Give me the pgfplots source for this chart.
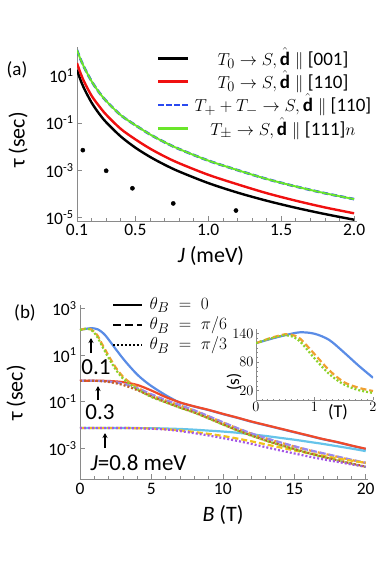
\documentclass[border=0pt]{standalone}
\usepackage{amsmath}
\usepackage{fontspec}
\setmainfont{Carlito}
\usepackage{pgfplots}
\pgfplotsset{compat=1.18}
\usetikzlibrary{arrows.meta}

\definecolor{axgray}{HTML}{8A8A8A}
\definecolor{ared}{HTML}{F01010}
\definecolor{ablue}{HTML}{2A4AF0}
\definecolor{agreen}{HTML}{6AE62A}
% panel (b): J = 0.1, 0.3, 0.8 for theta_B = 0, pi/6, pi/3
\definecolor{cA}{HTML}{5A8CE6}
\definecolor{cAd}{HTML}{F0A030}
\definecolor{cAt}{HTML}{8CD22A}
\definecolor{cB}{HTML}{F04A2A}
\definecolor{cBd}{HTML}{9A88EE}
\definecolor{cBt}{HTML}{C0602A}
\definecolor{cC}{HTML}{66C4EA}
\definecolor{cCd}{HTML}{F2C21A}
\definecolor{cCt}{HTML}{A458E6}

\pgfplotsset{
  myaxis/.style={
    scale only axis, axis lines=left,
    axis line style={axgray, line width=0.8pt, -},
    every tick/.style={axgray, line width=0.6pt},
    tick align=inside, major tick length=5pt, minor tick length=3pt,
    tick label style={font=\fontsize{17.5}{20}\selectfont},
  },
  lsol/.style={line width=2.2pt},
  ldsh/.style={line width=2.2pt, dash pattern=on 6pt off 3pt},
  ldot/.style={line width=2.2pt, dash pattern=on 2pt off 2pt},
}

\begin{document}
\begin{tikzpicture}
\path[use as bounding box] (0,0) rectangle (382pt,-565pt);

% ---------------- (a) ----------------
\begin{axis}[myaxis,
  at={(77pt,-221pt)}, anchor=south west, width=280pt, height=174.3pt,
  xmin=0.1, xmax=2.02, ymode=log, ymin=7.2e-6, ymax=166,
  xtick={0.1,0.5,1.0,1.5,2.0}, xticklabels={0.1,0.5,1.0,1.5,2.0},
  minor xtick={0.2,0.3,0.4,0.6,0.7,0.8,0.9,1.1,1.2,1.3,1.4,1.6,1.7,1.8,1.9},
  ytick={1e-5,1e-3,1e-1,1e1},
  yticklabels={10\textsuperscript{-5},10\textsuperscript{-3},10\textsuperscript{-1},10\textsuperscript{1}},
  yminorticks=false,
]
\addplot[black, line width=2.4pt, smooth] coordinates {
(0.1,17.38)(0.12,7.621)(0.15,2.748)(0.2,0.7244)(0.25,0.2541)(0.3,0.1069)(0.4,2.685e-2)
(0.5,9.06e-3)(0.6,3.70e-3)(0.7,1.726e-3)(0.8,8.87e-4)(1.0,2.884e-4)(1.2,1.143e-4)
(1.4,5.19e-5)(1.6,2.606e-5)(1.8,1.416e-5)(2.0,8.17e-6)};
\addplot[ared, line width=2.4pt, smooth] coordinates {
(0.1,33.88)(0.12,14.86)(0.15,5.358)(0.2,1.413)(0.25,0.5309)(0.3,0.2234)(0.4,5.61e-2)
(0.5,2.028e-2)(0.6,8.28e-3)(0.7,3.864e-3)(0.8,1.986e-3)(1.0,6.457e-4)(1.2,2.559e-4)
(1.4,1.084e-4)(1.6,5.20e-5)(1.8,2.698e-5)(2.0,1.521e-5)};
\addplot[ablue, line width=2.6pt, dash pattern=on 6pt off 3pt, smooth] coordinates {
(0.1,120.2)(0.12,56.49)(0.15,21.83)(0.2,5.754)(0.25,2.018)(0.3,0.8492)(0.4,0.2133)
(0.5,8.07e-2)(0.6,3.296e-2)(0.7,1.538e-2)(0.8,7.91e-3)(1.0,2.570e-3)(1.2,1.019e-3)
(1.4,4.315e-4)(1.6,2.070e-4)(1.8,1.074e-4)(2.0,6.05e-5)};
\addplot[agreen, line width=1.9pt, smooth] coordinates {
(0.1,120.2)(0.12,56.49)(0.15,21.83)(0.2,5.754)(0.25,2.018)(0.3,0.8492)(0.4,0.2133)
(0.5,8.07e-2)(0.6,3.296e-2)(0.7,1.538e-2)(0.8,7.91e-3)(1.0,2.570e-3)(1.2,1.019e-3)
(1.4,4.315e-4)(1.6,2.070e-4)(1.8,1.074e-4)(2.0,6.05e-5)};
\addplot[only marks, mark=*, mark size=2.1pt, black] coordinates {
(0.14,7.079e-3)(0.3,9.55e-4)(0.48,1.738e-4)(0.76,3.981e-5)(1.19,1.995e-5)};
\end{axis}

% ---------------- (b) ----------------
\begin{axis}[myaxis,
  at={(80pt,-479.3pt)}, anchor=south west, width=288pt, height=174.3pt,
  xmin=0, xmax=20.16, ymode=log, ymin=4.68e-5, ymax=1413,
  xtick={0,5,10,15,20}, xticklabels={0,5,10,15,20},
  minor xtick={1,2,3,4,6,7,8,9,11,12,13,14,16,17,18,19},
  ytick={1e-3,1e-1,1e1,1e3},
  yticklabels={10\textsuperscript{-3},10\textsuperscript{-1},10\textsuperscript{1},10\textsuperscript{3}},
  yminorticks=false,
]
% theta_B = 0
\addplot[cA, lsol, smooth] coordinates {
(0,120)(0.25,129)(0.5,137)(0.75,143)(1.0,140)(1.25,127)(1.5,101)(1.75,73)(2.0,47)
(2.5,18.2)(3.0,7.244)(3.5,3.162)(4.0,1.479)(4.5,0.7943)(5.0,0.4677)(5.5,0.2951)
(6.0,0.1905)(6.5,0.1288)(7,0.0912)(8,0.06166)(9,0.04365)(10,0.02951)(11,0.02042)
(12,0.0138)(13,9.772e-3)(14,6.918e-3)(15,4.898e-3)(16,3.467e-3)(17,2.455e-3)
(18,1.82e-3)(19,1.288e-3)(20,9.333e-4)};
\addplot[cB, lsol, smooth] coordinates {
(0,0.7943)(1,0.7943)(2,0.7762)(3,0.6918)(4,0.5248)(5,0.302)(6,0.1585)(7,0.09333)
(8,0.0631)(9,0.04467)(10,0.0302)(11,0.02089)(12,0.01413)(13,0.01)(14,7.079e-3)
(15,5.012e-3)(16,3.548e-3)(17,2.512e-3)(18,1.862e-3)(19,1.318e-3)(20,9.55e-4)};
\addplot[cC, lsol, smooth] coordinates {
(0,7.413e-3)(3,7.413e-3)(5,7.32e-3)(6,7.079e-3)(7,6.761e-3)(8,6.31e-3)(9,5.754e-3)
(10,5.248e-3)(11,4.677e-3)(12,3.981e-3)(13,3.388e-3)(14,2.818e-3)(15,2.344e-3)
(16,1.905e-3)(17,1.549e-3)(18,1.23e-3)(19,9.772e-4)(20,7.586e-4)};
% theta_B = pi/6
\addplot[cAd, ldsh, smooth] coordinates {
(0,120)(0.25,131)(0.5,139)(0.75,129)(1.0,100)(1.25,66)(1.5,33.1)(1.75,17.8)(2.0,9.33)
(2.5,2.951)(3.0,1.202)(3.5,0.6607)(4.0,0.4169)(4.5,0.2754)(5.0,0.1905)(5.5,0.1445)
(6,0.1122)(7,0.06918)(8,0.04169)(9,2.344e-2)(10,1.288e-2)(11,7.244e-3)(12,4.266e-3)
(13,2.692e-3)(14,1.778e-3)(15,1.202e-3)(16,8.318e-4)(17,6.026e-4)(18,4.365e-4)
(19,3.162e-4)(20,2.344e-4)};
\addplot[cBd, ldsh, smooth] coordinates {
(0,0.7943)(1,0.7943)(2,0.7413)(3,0.6026)(4,0.3802)(5,0.2089)(6,0.1175)(7,0.07079)
(8,0.04266)(9,0.02399)(10,1.318e-2)(11,7.413e-3)(12,4.365e-3)(13,2.754e-3)
(14,1.82e-3)(15,1.23e-3)(16,8.511e-4)(17,6.166e-4)(18,4.467e-4)(19,3.236e-4)(20,2.399e-4)};
\addplot[cCd, ldsh, smooth] coordinates {
(0,7.413e-3)(3,7.413e-3)(4,7.3e-3)(5,7.079e-3)(6,6.607e-3)(7,5.888e-3)(8,5.012e-3)
(9,4.169e-3)(10,3.388e-3)(11,2.63e-3)(12,1.995e-3)(13,1.479e-3)(14,1.096e-3)
(15,8.128e-4)(16,6.166e-4)(17,4.786e-4)(18,3.715e-4)(19,2.951e-4)(20,2.399e-4)};
% theta_B = pi/3
\addplot[cAt, ldot, smooth] coordinates {
(0,120)(0.25,130)(0.5,137)(0.75,124)(1.0,91)(1.25,55)(1.5,27.5)(1.75,14.45)(2.0,7.586)
(2.5,2.399)(3.0,1.0)(3.5,0.5495)(4.0,0.3467)(4.5,0.2291)(5.0,0.1585)(5.5,0.1202)
(6,0.09333)(7,0.05495)(8,0.03388)(9,1.905e-2)(10,1.047e-2)(11,5.888e-3)(12,3.467e-3)
(13,2.138e-3)(14,1.38e-3)(15,9.12e-4)(16,6.166e-4)(17,4.266e-4)(18,3.02e-4)
(19,2.188e-4)(20,1.585e-4)};
\addplot[cBt, ldot, smooth] coordinates {
(0,0.7943)(1,0.7943)(2,0.7079)(3,0.5248)(4,0.3162)(5,0.1698)(6,0.0955)(7,0.05623)
(8,0.03467)(9,1.95e-2)(10,1.072e-2)(11,6.026e-3)(12,3.548e-3)(13,2.188e-3)
(14,1.413e-3)(15,9.333e-4)(16,6.31e-4)(17,4.365e-4)(18,3.09e-4)(19,2.239e-4)(20,1.622e-4)};
\addplot[cCt, ldot, smooth] coordinates {
(0,7.413e-3)(3,7.413e-3)(4,7.25e-3)(5,6.918e-3)(6,6.457e-3)(7,5.495e-3)(8,4.467e-3)
(9,3.548e-3)(10,2.754e-3)(11,2.089e-3)(12,1.549e-3)(13,1.122e-3)(14,8.128e-4)
(15,6.026e-4)(16,4.467e-4)(17,3.388e-4)(18,2.63e-4)(19,2.042e-4)(20,1.622e-4)};
\end{axis}

% ---------------- inset: J = 0.1 meV, linear ----------------
\begin{axis}[myaxis,
  at={(256pt,-400pt)}, anchor=south west, width=117pt, height=71pt,
  xmin=0, xmax=2, ymin=0, ymax=150,
  xtick={0,1,2}, ytick={20,80,140},
  minor x tick num=9, minor y tick num=5,
  major tick length=3pt, minor tick length=1.5pt,
  tick label style={font=\fontsize{13.5}{15}\selectfont},
  xticklabel style={yshift=1pt}, yticklabel style={xshift=1pt},
]
\addplot[cA, lsol, smooth] coordinates {
(0,120)(0.25,129)(0.5,137)(0.75,143)(1.0,140)(1.25,127)(1.5,101)(1.75,73)(2.0,47)};
\addplot[cAd, ldsh, smooth] coordinates {
(0,120)(0.25,131)(0.5,139)(0.6,138)(0.75,130)(1.0,97)(1.25,63)(1.5,38)(1.75,26)(2.0,19)};
\addplot[cAt, ldot, smooth] coordinates {
(0,120)(0.25,130)(0.5,137)(0.6,135)(0.75,124)(1.0,88)(1.25,55)(1.5,33)(1.75,21)(2.0,15)};
\end{axis}

% legend (a)
\begin{scope}[font=\fontsize{19}{22}\selectfont]
\draw[black, line width=2.6pt] (158pt,-58.3pt) -- (188pt,-58.3pt);
\draw[ared, line width=2.6pt] (158pt,-81.7pt) -- (188pt,-81.7pt);
\draw[ablue, line width=2.6pt, dash pattern=on 6pt off 2pt] (158pt,-105pt) -- (188pt,-105pt);
\draw[agreen, line width=2.6pt] (158pt,-128.3pt) -- (188pt,-128.3pt);
\node at (283pt,-58.3pt) {$T_0\rightarrow S,\hat{\mathbf{d}}\parallel$ [001]};
\node at (283pt,-81.7pt) {$T_0\rightarrow S,\hat{\mathbf{d}}\parallel$ [110]};
\node at (283pt,-105pt) {$T_{+}+T_{-}\rightarrow S,\hat{\mathbf{d}}\parallel$ [110]};
\node at (283pt,-128.3pt) {$T_{\pm}\rightarrow S,\hat{\mathbf{d}}\parallel$ [111]$n$};
\end{scope}
% legend (b)
\begin{scope}[font=\fontsize{19}{22}\selectfont]
\draw[black, line width=2.6pt] (113pt,-305pt) -- (142pt,-305pt);
\draw[black, line width=2.6pt, dash pattern=on 8pt off 4pt] (113pt,-325pt) -- (142pt,-325pt);
\draw[black, line width=2.6pt, dash pattern=on 2pt off 2pt] (113pt,-345pt) -- (142pt,-345pt);
\node[anchor=west] at (146pt,-305pt) {$\theta_B\;=\;0$};
\node[anchor=west] at (146pt,-325pt) {$\theta_B\;=\;\pi/6$};
\node[anchor=west] at (146pt,-345pt) {$\theta_B\;=\;\pi/3$};
\end{scope}

% labels and annotations
\node[font=\fontsize{19}{22}\selectfont] at (17pt,-70pt) {(a)};
\node[font=\fontsize{19}{22}\selectfont] at (25pt,-313pt) {(b)};
\node[font=\fontsize{22}{25}\selectfont, rotate=90] at (18pt,-140pt) {τ (sec)};
\node[font=\fontsize{22}{25}\selectfont, rotate=90] at (16pt,-393pt) {τ (sec)};
\node[font=\fontsize{22}{25}\selectfont] at (211pt,-256pt) {\textit{J} (meV)};
\node[font=\fontsize{22}{25}\selectfont] at (223pt,-515pt) {\textit{B} (T)};
\node[font=\fontsize{18}{21}\selectfont] at (338pt,-412pt) {(T)};
\node[font=\fontsize{17}{20}\selectfont, rotate=90] at (234pt,-382pt) {(s)};
\draw[-{Stealth[length=5pt,width=5pt]}, line width=1.1pt] (91pt,-353pt) -- (91pt,-338pt);
\draw[-{Stealth[length=5pt,width=5pt]}, line width=1.1pt] (98pt,-400pt) -- (98pt,-386pt);
\draw[-{Stealth[length=5pt,width=5pt]}, line width=1.1pt] (105pt,-448pt) -- (105pt,-433pt);
\node[font=\fontsize{23}{26}\selectfont] at (96pt,-367pt) {0.1};
\node[font=\fontsize{23}{26}\selectfont] at (100pt,-412pt) {0.3};
\node[font=\fontsize{23}{26}\selectfont, anchor=west] at (87pt,-463pt) {\textit{J}=0.8 meV};
\end{tikzpicture}
\end{document}
